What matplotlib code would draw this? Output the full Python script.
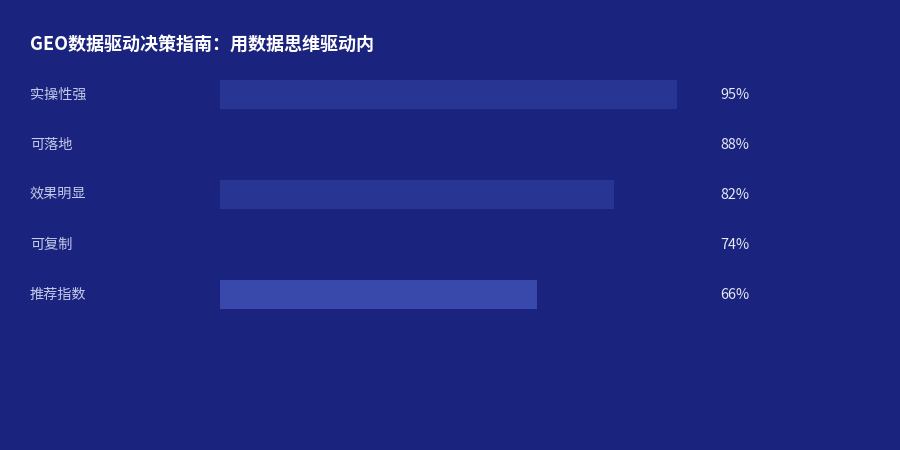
import matplotlib.pyplot as plt
import matplotlib.transforms as mtransforms

plt.rcParams['font.family'] = ['Noto Sans CJK SC', 'DejaVu Sans']

title = 'GEO数据驱动决策指南：用数据思维驱动内'
labels = ['实操性强', '可落地', '效果明显', '可复制', '推荐指数']
values = [95, 88, 82, 74, 66]
bar_colors = ['#283593', '#1a237e', '#283593', '#1a237e', '#3949ab']

bg = '#1a237e'
W, H = 900, 450

fig = plt.figure(figsize=(9, 4.5), dpi=100, facecolor=bg)
# plot area: x 220..701 px, rows centred at 94..294 px
ax = fig.add_axes([220 / W, 1 - 319 / H, 481 / W, 250 / H])
ax.set_facecolor(bg)
ax.set_xlim(0, 100)
ax.set_ylim(len(labels) - 0.5, -0.5)
ax.axis('off')

ypos = list(range(len(labels)))
ax.barh(ypos, values, height=0.58, color=bar_colors, linewidth=0)

trans = mtransforms.blended_transform_factory(fig.transFigure, ax.transData)
for y, lab, v in zip(ypos, labels, values):
    ax.text(30 / W, y + 0.02, lab, transform=trans, ha='left', va='center',
            fontsize=10.2, color='#c5cae9')
    ax.text(720 / W, y + 0.02, '{}%'.format(v), transform=trans, ha='left', va='center',
            fontsize=10.4, color='#e8eaf6')

fig.text(30 / W, 1 - 44 / H, title, ha='left', va='center',
         fontsize=13, fontweight='bold', color='white')

fig.savefig('out.png', dpi=100, facecolor=bg)
